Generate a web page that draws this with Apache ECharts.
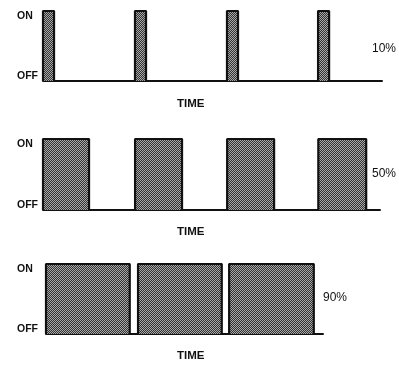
<!DOCTYPE html>
<html>
<head>
<meta charset="utf-8">
<script src="https://cdn.jsdelivr.net/npm/echarts@6/dist/echarts.min.js"></script>
<style>html,body{margin:0;padding:0;background:#fff}#c{width:399px;height:366px}</style>
</head>
<body>
<div id="c"></div>
<script>
// Data (time units; one period = 10 units)
var yTickLabels = ['OFF', 'ON'];
var dutyLabels = ['10%', '50%', '90%'];
var axisTitle = 'TIME';
var pulseStarts1 = [0, 10, 20, 29.9];
var pulseWidths1 = [1.2, 1.2, 1.2, 1.2];
var timeEnd1 = 36.85;
var pulseStarts2 = [0, 10, 20, 29.9];
var pulseWidths2 = [5.0, 5.1, 5.1, 5.2];
var timeEnd2 = 36.6;
var pulseStarts3 = [0, 10, 19.9];
var pulseWidths3 = [9.1, 9.1, 9.2];
var timeEnd3 = 30.1;

function buildWave(starts, widths, end) {
  var pts = [];
  for (var i = 0; i < starts.length; i++) {
    var s = starts[i], e = starts[i] + widths[i];
    pts.push([s, 0], [s, 1], [e, 1], [e, 0]);
  }
  pts.push([end, 0]);
  return pts;
}

// halftone pattern
var pc = document.createElement('canvas');
pc.width = 2; pc.height = 2;
var pctx = pc.getContext('2d');
pctx.fillStyle = '#333'; pctx.fillRect(0, 0, 2, 2);
pctx.fillStyle = '#a8a8a8'; pctx.fillRect(0, 0, 1, 1); pctx.fillRect(1, 1, 1, 1);
var fillPattern = { image: pc, repeat: 'repeat' };

var FONT = 'Liberation Sans, Arial, Helvetica, sans-serif';
var grids = [
  { left: 43, top: 11, width: 339, height: 70 },
  { left: 43, top: 139, width: 337, height: 71 },
  { left: 46, top: 264, width: 277, height: 70 }
];
var ends = [timeEnd1, timeEnd2, timeEnd3];
var margins = [26, 26, 29];
var waves = [
  buildWave(pulseStarts1, pulseWidths1, timeEnd1),
  buildWave(pulseStarts2, pulseWidths2, timeEnd2),
  buildWave(pulseStarts3, pulseWidths3, timeEnd3)
];

var option = {
  backgroundColor: '#fff',
  animation: false,
  title: [
    { text: axisTitle, left: 177, top: 98 },
    { text: axisTitle, left: 177, top: 226 },
    { text: axisTitle, left: 177, top: 350 },
    { text: dutyLabels[0], left: 372, top: 43 },
    { text: dutyLabels[1], left: 372, top: 168 },
    { text: dutyLabels[2], left: 323, top: 292 }
  ].map(function (t, i) {
    t.padding = 0;
    t.textStyle = {
      fontFamily: FONT, fontSize: i < 3 ? 11.5 : 12,
      fontWeight: i < 3 ? 'bold' : 'normal', color: '#111'
    };
    return t;
  }),
  grid: grids,
  xAxis: grids.map(function (g, i) {
    return {
      type: 'value', gridIndex: i, min: 0, max: ends[i],
      axisLine: { show: true, lineStyle: { color: '#111', width: 2 } },
      axisTick: { show: false },
      axisLabel: { show: false }, splitLine: { show: false }
    };
  }),
  yAxis: grids.map(function (g, i) {
    return {
      type: 'value', gridIndex: i, min: 0, max: 1, interval: 1,
      axisLine: { show: false }, axisTick: { show: false }, splitLine: { show: false },
      axisLabel: {
        align: 'left', margin: margins[i],
        verticalAlignMinLabel: 'bottom', verticalAlignMaxLabel: 'top',
        lineHeight: 10,
        fontFamily: FONT, fontSize: 10.5, fontWeight: 'bold', color: '#111',
        formatter: function (v) { return yTickLabels[v]; }
      }
    };
  }),
  series: waves.map(function (w, i) {
    return {
      type: 'line', xAxisIndex: i, yAxisIndex: i, data: w,
      symbol: 'none', silent: true, z: 3,
      lineStyle: { color: '#111', width: 2.2 },
      areaStyle: { color: fillPattern, opacity: 1, origin: 'start' }
    };
  })
};
var chart = echarts.init(document.getElementById('c'), null, { renderer: 'canvas' });
chart.setOption(option);
</script>
</body>
</html>
